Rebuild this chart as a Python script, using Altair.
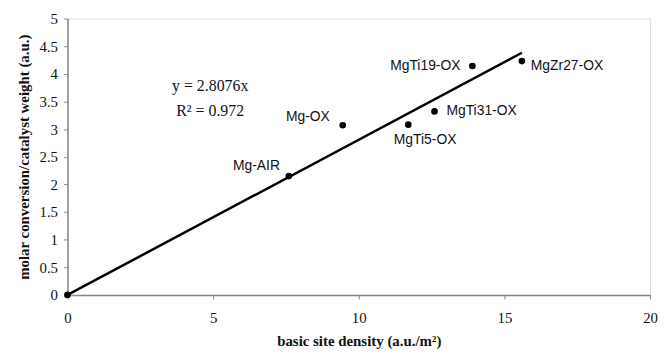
import altair as alt
import pandas as pd

# Data
samples = ["Mg-AIR", "Mg-OX", "MgTi5-OX", "MgTi31-OX", "MgTi19-OX", "MgZr27-OX"]
density = [7.6, 9.45, 11.7, 12.6, 13.9, 15.6]
conversion = [2.15, 3.07, 3.08, 3.32, 4.14, 4.23]

origin_x = [0.0]
origin_y = [0.0]

fit_x = [0.0, 15.6]
fit_y = [0.0, 4.38]

eq_lines = ["y = 2.8076x", "R\u00b2 = 0.972"]
eq_x = [4.9, 4.9]
eq_y = [3.78, 3.33]

x_ticks = [0, 5, 10, 15, 20]
y_ticks = [0.0, 0.5, 1.0, 1.5, 2.0, 2.5, 3.0, 3.5, 4.0, 4.5, 5.0]

pts = pd.DataFrame({"name": samples, "x": density, "y": conversion})
pts0 = pd.DataFrame({"x": origin_x, "y": origin_y})
fit = pd.DataFrame({"x": fit_x, "y": fit_y})
eq = pd.DataFrame({"t": eq_lines, "x": eq_x, "y": eq_y})

serif = "Liberation Serif"
sans = "Liberation Sans"

xs = alt.Scale(domain=[0, 20], nice=False, zero=False)
ys = alt.Scale(domain=[0, 5], nice=False, zero=False)

xaxis = alt.Axis(
    values=x_ticks, title="basic site density (a.u./m\u00b2)", grid=False,
    labelFont=serif, labelFontSize=15, labelColor="#111", labelPadding=12,
    labelOverlap=False, labelFlush=False,
    tickSize=4, tickColor="#888", domainColor="#888", domainWidth=1.5,
    titleFont=serif, titleFontSize=15, titleFontWeight="bold", titleColor="#111",
    titlePadding=8)
yaxis = alt.Axis(
    values=y_ticks, tickCount=11, title="molar conversion/catalyst weight (a.u.)", grid=False,
    labelFont=serif, labelFontSize=15, labelColor="#111", labelPadding=6,
    labelOverlap=False, labelFlush=False,
    tickSize=4, tickColor="#888", domainColor="#888", domainWidth=1.5,
    titleFont=serif, titleFontSize=15, titleFontWeight="bold", titleColor="#111",
    titlePadding=8, format="~g")

def X():
    return alt.X("x:Q", scale=xs, axis=xaxis)

def Y():
    return alt.Y("y:Q", scale=ys, axis=yaxis)

line = alt.Chart(fit).mark_line(color="black", strokeWidth=2.5).encode(x=X(), y=Y())
dots = alt.Chart(pts).mark_circle(color="black", size=45, opacity=1).encode(x=X(), y=Y())
dot0 = alt.Chart(pts0).mark_circle(color="black", size=45, opacity=1).encode(x=X(), y=Y())

label_style = {
    "Mg-AIR": dict(align="right", dx=-9, dy=-10),
    "Mg-OX": dict(align="right", dx=-13, dy=-8),
    "MgTi5-OX": dict(align="center", dx=17, dy=16),
    "MgTi31-OX": dict(align="left", dx=12, dy=0),
    "MgTi19-OX": dict(align="right", dx=-12, dy=0),
    "MgZr27-OX": dict(align="left", dx=9, dy=5),
}
labels = []
for name, st in label_style.items():
    labels.append(
        alt.Chart(pts).transform_filter(alt.datum.name == name)
        .mark_text(font=sans, fontSize=14, color="#111", baseline="middle", **st)
        .encode(x=X(), y=Y(), text="name:N")
    )

eqt = alt.Chart(eq).mark_text(font=serif, fontSize=16, color="#111", align="center",
                              baseline="middle").encode(x=X(), y=Y(), text="t:N")

chart = alt.layer(line, dots, dot0, eqt, *labels).properties(
    width=588, height=279,
    autosize=alt.AutoSizeParams(type="none"),
    padding={"left": 60, "top": 9, "right": 8, "bottom": 56},
).configure_view(stroke="#888", strokeWidth=1.5).configure(background="white")

chart.save("out.html", embed_options={"renderer": "svg", "actions": False})
